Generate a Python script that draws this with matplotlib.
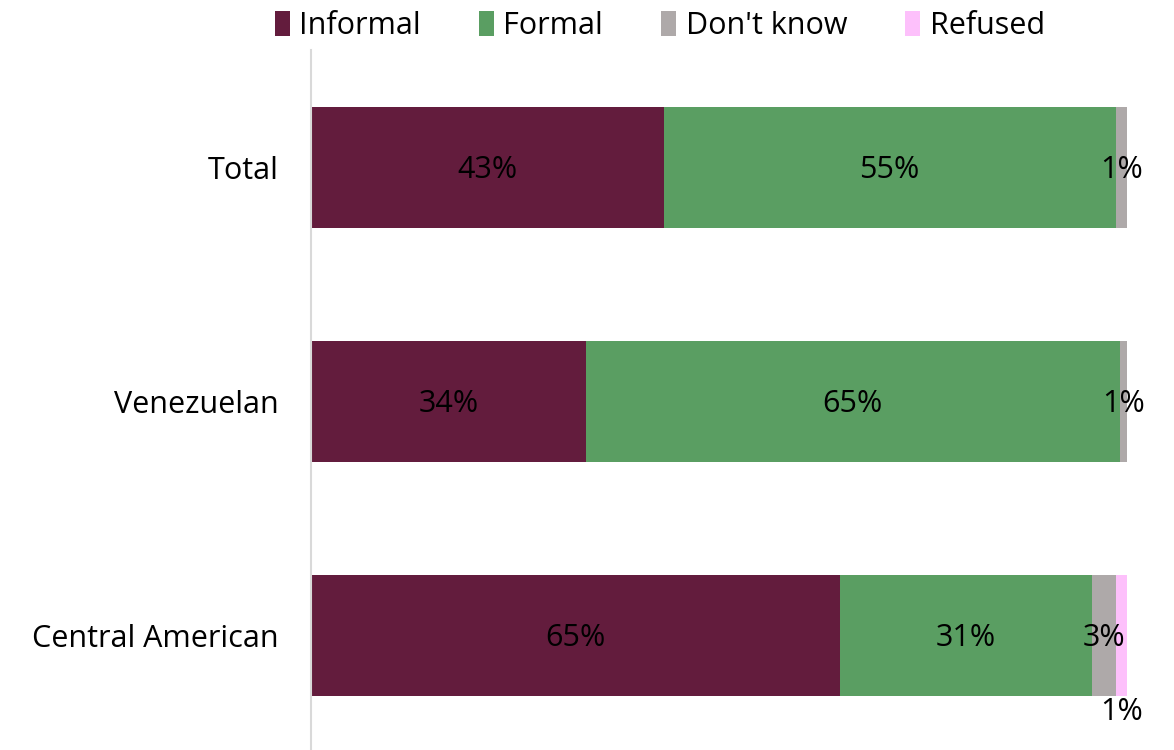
import matplotlib.pyplot as plt
import numpy as np

plt.rcParams['font.family'] = ['Open Sans', 'DejaVu Sans']

# Veriler
categories = ['Total', 'Venezuelan', 'Central American']
series_names = ['Informal', 'Formal', "Don't know", 'Refused']
informal = [43.2, 33.7, 64.8]
formal = [55.4, 65.4, 30.9]
dont_know = [1.4, 0.9, 2.9]
refused = [0.0, 0.0, 1.4]
colors = ['#631C3D', '#5A9E62', '#AEA9A9', '#FDC0FB']

FS = 22

fig = plt.figure(figsize=(11.74, 7.5), dpi=100)
ax = fig.add_axes([311 / 1174, -0.0033, 816 / 1174, 0.936])

y = np.arange(len(categories))
left = np.zeros(len(categories))
all_series = [informal, formal, dont_know, refused]
for name, vals, col in zip(series_names, all_series, colors):
    vals = np.array(vals)
    ax.barh(y, vals, left=left, height=0.517, color=col, label=name)
    for i, v in enumerate(vals):
        if v <= 0:
            continue
        cx = left[i] + v / 2
        if name == 'Refused':
            # küçük segment: etiketi çubuğun altına yaz
            ax.annotate(f'{v:.0f}%', (cx, y[i] + 0.2585), xytext=(0, -1),
                        textcoords='offset points', ha='center', va='top',
                        fontsize=FS, color='black')
        else:
            ax.annotate(f'{v:.0f}%', (cx, y[i]), xytext=(0, -2),
                        textcoords='offset points', ha='center', va='center',
                        fontsize=FS, color='black')
    left += vals

ax.set_xlim(0, 100)
ax.set_ylim(2.5, -0.5)
ax.set_yticks(y)
ax.set_yticklabels(categories, fontsize=FS)
ax.tick_params(axis='y', length=0, pad=23)
ax.set_xticks([])
for s in ['top', 'right', 'bottom']:
    ax.spines[s].set_visible(False)
ax.spines['left'].set_color('#D9D9D9')
ax.spines['left'].set_linewidth(1.5)

leg = fig.legend(loc='upper center', bbox_to_anchor=(0.562, 1.022), ncol=4,
                 frameon=False, fontsize=FS, handlelength=0.5, handleheight=0.85,
                 handletextpad=0.3, columnspacing=1.9)

fig.savefig('out.png', dpi=100)
